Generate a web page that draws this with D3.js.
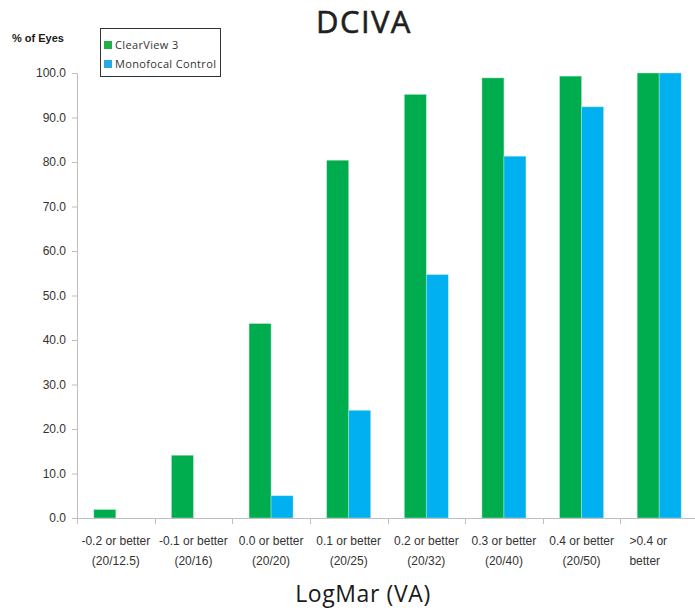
<!DOCTYPE html>
<html><head><meta charset="utf-8">
<script src="https://cdn.jsdelivr.net/npm/d3@7"></script>
<style>body{margin:0;background:#fff}svg{display:block}</style>
</head><body>
<script>
const categories = ["-0.2 or better|(20/12.5)","-0.1 or better|(20/16)","0.0 or better|(20/20)","0.1 or better|(20/25)","0.2 or better|(20/32)","0.3 or better|(20/40)","0.4 or better|(20/50)",">0.4 or|better"];
const seriesNames = ["ClearView 3","Monofocal Control"];
const clearView = [1.9,14.1,43.7,80.4,95.2,98.9,99.3,100.0];
const monofocal = [0,0,5.0,24.2,54.7,81.3,92.4,100.0];
const yTicks = [0,10,20,30,40,50,60,70,80,90,100];
const colors = ["#00ad4e","#00b0f0"];
const legendColors = ["#22b04b","#29abe2"];

const W=695,H=610;
const svg=d3.select("body").append("svg").attr("width",W).attr("height",H);
const x0=d3.scaleBand().domain(categories).range([77,698]).paddingInner(0).paddingOuter(0);
const x1=d3.scaleBand().domain(seriesNames).range([0,x0.bandwidth()]).paddingInner(0).paddingOuter(0.764);
const y=d3.scaleLinear().domain([0,100]).range([518,73]);
const data=[clearView,monofocal];

// bars
categories.forEach((c,i)=>{
  seriesNames.forEach((s,j)=>{
    const v=data[j][i];
    if(v<=0) return;
    svg.append("rect").attr("x",x0(c)+x1(s)).attr("y",y(v)).attr("width",x1.bandwidth()).attr("height",y(0)-y(v))
      .attr("fill",colors[j]).attr("stroke","#c8eed8").attr("stroke-opacity",0.6).attr("stroke-width",0.7);
  });
});

// y axis
const yAxis=d3.axisLeft(y).tickValues(yTicks).tickFormat(d3.format(".1f")).tickSize(5).tickSizeOuter(0);
const gy=svg.append("g").attr("transform","translate(77,0)").call(yAxis);
gy.select(".domain").attr("stroke","#bfbfbf");
gy.selectAll(".tick line").attr("stroke","#bfbfbf");
gy.selectAll(".tick text").attr("x",-11).attr("font-family","Liberation Sans, Arial, sans-serif").attr("font-size",12).attr("fill","#333");

// x axis
svg.append("line").attr("x1",77).attr("x2",W).attr("y1",518.5).attr("y2",518.5).attr("stroke","#bfbfbf");
categories.forEach(c=>{
  const xx=Math.round(x0(c))+0.5;
  svg.append("line").attr("x1",xx).attr("x2",xx).attr("y1",518).attr("y2",524).attr("stroke","#bfbfbf");
});
categories.forEach((c,i)=>{
  const lines=c.split("|");
  const last=i===categories.length-1;
  const t=svg.append("text").attr("font-family","Liberation Sans, Arial, sans-serif").attr("font-size",12).attr("fill","#333")
    .attr("text-anchor",last?"start":"middle");
  const xx=last?x0(c)+9:x0(c)+x0.bandwidth()/2;
  lines.forEach((l,k)=>t.append("tspan").attr("x",xx).attr("y",545+k*20).text(l));
});

// title
svg.append("text").attr("x",364).attr("y",33).attr("text-anchor","middle").attr("font-family","Open Sans, sans-serif").attr("font-weight",400).attr("font-size",31).attr("letter-spacing",1.4)
  .attr("fill","#1f1f1f").attr("stroke","#1f1f1f").attr("stroke-width",0.6).text("DCIVA");
// x title
svg.append("text").attr("x",363).attr("y",602).attr("text-anchor","middle").attr("font-family","Open Sans, sans-serif").attr("font-size",23).attr("letter-spacing",0.6).attr("fill","#1a1a1a").text("LogMar (VA)");
// y title
svg.append("text").attr("x",12).attr("y",42).attr("font-family","Liberation Sans, Arial, sans-serif").attr("font-weight","bold").attr("font-size",11).attr("fill","#1a1a1a").text("% of Eyes");

// legend
const lg=svg.append("g");
lg.append("rect").attr("x",100.5).attr("y",28.5).attr("width",120).attr("height",48).attr("fill","#fff").attr("stroke","#333").attr("stroke-width",1);
seriesNames.forEach((s,j)=>{
  lg.append("rect").attr("x",104).attr("y",41+j*19).attr("width",8).attr("height",8).attr("fill",legendColors[j]);
  lg.append("text").attr("x",115).attr("y",48.5+j*19).attr("font-family","Open Sans, sans-serif").attr("font-size",11).attr("letter-spacing",0.35).attr("fill","#333").text(s);
});
</script>
</body></html>
